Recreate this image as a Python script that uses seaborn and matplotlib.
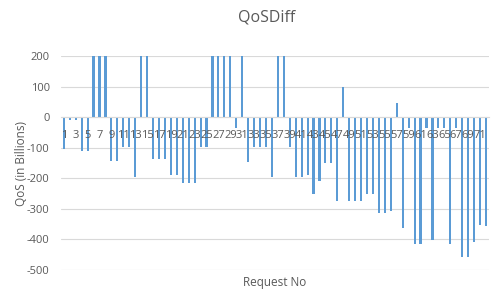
import pandas as pd
import seaborn as sns
from matplotlib import pyplot as plt

# Valores (barras acima de 200 ficam cortadas no eixo)
request_no = list(range(1, 73))
qos_diff = [-105, -8, -8, -111, -111, 200, 200, 200, -143, -143,
            -97, -97, -197, 200, 200, -138, -138, -138, -190, -190,
            -215, -215, -215, -97, -97, 200, 200, 200, 200, -34,
            200, -146, -97, -97, -97, -197, 200, 200, -97, -197,
            -197, -190, -250, -209, -149, -149, -275, 100, -275, -275,
            -275, -253, -253, -313, -313, -307, 47, -362, -35, -415,
            -415, -35, -402, -35, -35, -415, -35, -457, -457, -408,
            -353, -357]
y_ticks = [200, 100, 0, -100, -200, -300, -400, -500]

df = pd.DataFrame({"Request No": request_no, "QoS": qos_diff})

sns.set_theme(style="white")
plt.rcParams["font.family"] = ["Open Sans", "DejaVu Sans"]
plt.rcParams["axes.unicode_minus"] = False
text_color = "#595959"

fig = plt.figure(figsize=(5.03, 3.05), dpi=100)
ax = fig.add_axes([0.121, 0.115, 0.851, 0.701])

sns.barplot(data=df, x="Request No", y="QoS", color="#5B9BD5",
            saturation=1, width=0.36, linewidth=0, ax=ax)
# barras finas nítidas, sem suavização
for bar in ax.patches:
    bar.set_antialiased(False)

ax.set_ylim(-500, 200)
ax.set_xlim(-0.5, len(request_no) - 0.5)
ax.set_yticks(y_ticks)
ax.set_yticklabels([str(t) for t in y_ticks])
ax.set_xticks(range(0, len(request_no), 2))
ax.set_xticklabels([str(n) for n in request_no[::2]])

# Eixo x no zero, estilo Excel
for side in ["top", "right", "left"]:
    ax.spines[side].set_visible(False)
ax.spines["bottom"].set_position(("data", 0))
ax.spines["bottom"].set_color("#D9D9D9")
ax.spines["bottom"].set_linewidth(0.8)

ax.yaxis.grid(True, color="#D9D9D9", linewidth=0.8)
ax.set_axisbelow(True)
ax.xaxis.set_zorder(3)

ax.tick_params(axis="x", length=0, pad=9, labelsize=8, labelcolor=text_color)
ax.tick_params(axis="y", length=0, pad=8, labelsize=8, labelcolor=text_color)

ax.set_xlabel("Request No", fontsize=8.5, color=text_color)
ax.xaxis.set_label_coords(0.5, -0.03)
ax.set_ylabel("QoS (in Billions)", fontsize=8.5, color=text_color)
ax.yaxis.set_label_coords(-0.077, 0.5)

fig.text(0.531, 0.944, "QoSDiff", ha="center", va="center",
         fontsize=11.5, color=text_color)

fig.savefig("out.png", dpi=100, facecolor="white")
